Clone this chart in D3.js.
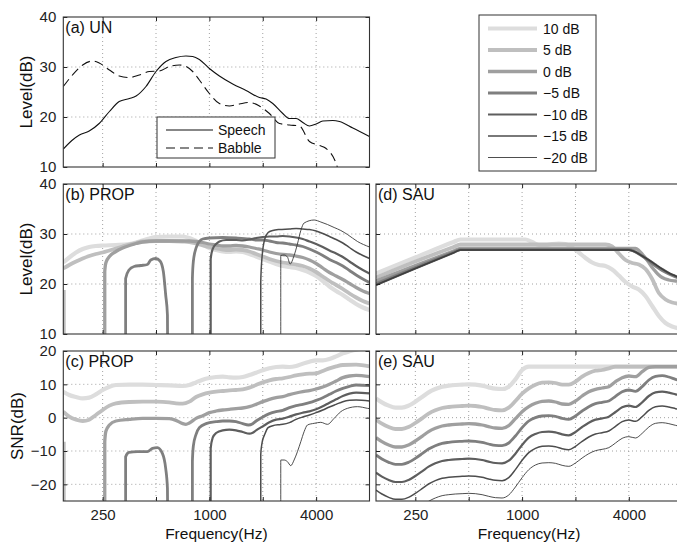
<!DOCTYPE html>
<html><head><meta charset="utf-8">
<script src="https://cdn.jsdelivr.net/npm/d3@7"></script>
<style>body{margin:0;background:#fff}</style>
</head><body><svg id="chart" width="677" height="542"></svg>
<script>
// ---------------- DATA ----------------
const snrLabels = ["10 dB", "5 dB", "0 dB", "\u22125 dB", "\u221210 dB", "\u221215 dB", "\u221220 dB"];
const xTickValues = [250, 1000, 4000];
const xGridValues = [250, 500, 1000, 2000, 4000];
const levelTicks = [10, 20, 30, 40];
const snrTicks = [-20, -10, 0, 10, 20];

// (a) unprocessed spectra [Hz, dB]
const speech = [[150,13.6],[169,15.4],[185,16.4],[210,17.2],[239,18.7],[273,21.1],[310,23.1],[354,23.7],[386,24.2],[439,26.1],[500,29.1],[569,31.1],[648,31.9],[738,32.2],[805,32.1],[878,31.5],[1000,29.7],[1139,28.2],[1354,26.6],[1610,25.3],[1915,23.9],[2089,23.6],[2278,22.7],[2594,20.7],[2828,19.7],[3084,19.7],[3364,18.9],[3668,18.2],[4000,18.6],[4362,19.2],[4967,19.3],[5417,19.1],[6442,17.8],[8000,16.1]];
const babble = [[150,26.1],[169,28.4],[193,30.4],[220,31.2],[239,30.8],[273,29.4],[310,28.2],[354,27.9],[403,28.4],[459,29.1],[522,29.2],[595,30.1],[677,30.4],[738,30.1],[805,29.1],[878,27.4],[1000,24.7],[1139,22.7],[1297,22.2],[1477,22.6],[1682,22.9],[1915,22.2],[2181,20.7],[2484,18.7],[2828,18.4],[3221,18.2],[3668,15.1],[4177,14.3],[4555,13.7],[5187,10.7],[5417,8.5]];

// (b) PROP level [Hz, dB]
const propLevel10 = [[150,24.3],[162,25.3],[177,26.3],[193,27.0],[210,27.4],[229,27.6],[250,27.7],[297,27.8],[354,28.0],[386,28.3],[420,28.7],[459,29.1],[500,29.4],[595,29.5],[707,29.5],[771,29.2],[841,28.6],[917,27.9],[1000,27.2],[1091,26.8],[1189,26.5],[1297,26.4],[1414,26.5],[1542,26.4],[1682,26.0],[1834,25.5],[2000,25.0],[2181,24.5],[2378,24.0],[2594,23.6],[2828,23.4],[3084,23.2],[3364,22.8],[3668,22.3],[4000,21.6],[4362,20.6],[4757,19.5],[5187,18.6],[5657,17.8],[6169,16.9],[6727,16.0],[7336,15.3],[8000,14.8]];
const propLevel5 = [[150,23.1],[162,23.8],[177,24.5],[193,25.1],[210,25.6],[229,26.0],[250,26.3],[273,26.7],[297,27.1],[324,27.5],[354,27.9],[386,28.2],[420,28.5],[500,28.6],[595,28.6],[707,28.5],[771,28.4],[841,28.1],[917,27.7],[1000,27.4],[1091,27.1],[1189,26.9],[1297,26.8],[1414,26.9],[1542,26.8],[1682,26.5],[1834,26.0],[2000,25.5],[2181,25.0],[2378,24.6],[2594,24.3],[2828,24.1],[3084,23.9],[3364,23.6],[3668,23.1],[4000,22.4],[4362,21.5],[4757,20.6],[5187,19.8],[5657,19.0],[6169,18.1],[6727,17.3],[7336,16.6],[8000,16.1]];
const propLevel0 = [[257,5],[257,22.5],[261,24.3],[273,25.5],[297,26.5],[324,27.2],[354,27.7],[386,28.1],[420,28.4],[500,28.6],[771,28.6],[841,28.5],[917,28.3],[1000,28.0],[1091,27.8],[1189,27.6],[1297,27.6],[1414,27.7],[1542,27.6],[1682,27.4],[1834,27.1],[2000,26.8],[2181,26.4],[2378,26.1],[2594,25.9],[2828,25.8],[3084,25.6],[3364,25.3],[3668,24.8],[4000,24.1],[4362,23.2],[4757,22.3],[5187,21.6],[5657,20.9],[6169,20.1],[6727,19.3],[7336,18.6],[8000,18.1]];
const propLevelM5Low = [[337,5],[337,21.1],[352,22.8],[376,23.5],[410,23.7],[447,23.9],[467,24.8],[498,25.1],[527,24.6],[550,22.5],[567,17.8],[580,13.8],[582,5]];
const propLevelM5 = [[802,5],[802,21.1],[812,24.5],[841,27.2],[878,28.5],[917,29.0],[1000,29.2],[1189,29.3],[1414,29.2],[1682,29.0],[1834,28.8],[2000,28.8],[2181,28.6],[2378,28.3],[2594,28.2],[2828,28.0],[3084,27.8],[3364,27.5],[3668,27.0],[4000,26.4],[4362,25.7],[4757,24.9],[5187,24.3],[5657,23.6],[6169,22.7],[6727,21.8],[7336,21.0],[8000,20.3]];
const propLevelM10 = [[1017,5],[1017,25.0],[1044,27.0],[1091,28.0],[1139,28.5],[1242,28.8],[1414,28.8],[1542,28.7],[1682,28.9],[1834,29.2],[2000,29.4],[2181,29.5],[2378,29.5],[2594,29.6],[2828,29.5],[3084,29.3],[3364,29.0],[3668,28.5],[4000,28.0],[4362,27.4],[4757,26.7],[5187,26.1],[5657,25.4],[6169,24.5],[6727,23.6],[7336,22.8],[8000,22.1]];
const propLevelM15 = [[1949,5],[1949,20.5],[1983,25.5],[2053,29.0],[2144,30.3],[2278,30.7],[2484,30.9],[2828,31.0],[3084,31.1],[3364,31.0],[3668,30.9],[4000,30.6],[4362,30.1],[4757,29.5],[5187,28.9],[5657,28.2],[6169,27.3],[6727,26.4],[7336,25.7],[8000,25.1]];
const propLevelM20 = [[2527,5],[2527,25.7],[2639,25.8],[2756,25.4],[2853,24.0],[3005,25.7],[3138,28.0],[3278,30.7],[3422,32.2],[3897,32.8],[4250,32.4],[4635,31.9],[5055,31.3],[5512,30.7],[6010,29.9],[6845,28.5],[8000,27.4]];
const propLevelEdge = [[151,5],[151,18.8]];

// (c) PROP SNR [Hz, dB]
const propSnr10 = [[150,7.8],[162,6.8],[177,6.2],[193,5.8],[210,6.0],[229,7.0],[250,8.3],[273,9.3],[297,9.8],[354,9.9],[420,9.9],[500,9.8],[595,9.7],[707,9.5],[771,9.8],[841,10.6],[917,11.4],[1000,11.9],[1091,12.2],[1189,12.3],[1297,12.1],[1414,12.0],[1542,12.2],[1682,12.8],[1834,13.5],[2000,14.2],[2181,14.8],[2378,15.2],[2594,15.3],[2828,15.2],[3084,15.5],[3364,16.2],[3668,16.8],[4000,17.2],[4362,17.2],[4757,17.6],[5187,18.4],[5657,19.3],[6169,19.9],[6727,20.4],[8000,20.8]];
const propSnr5 = [[150,1.8],[162,0.3],[177,-0.6],[193,-1.0],[210,-0.6],[229,0.8],[250,2.3],[273,3.6],[297,4.3],[354,4.7],[420,4.8],[500,4.8],[595,4.6],[648,4.3],[707,4.2],[771,4.8],[841,6.2],[917,7.0],[1000,7.5],[1091,7.8],[1189,8.0],[1297,8.2],[1414,8.3],[1542,8.5],[1682,9.0],[1834,9.8],[2000,10.6],[2181,11.2],[2378,11.6],[2594,11.8],[2828,12.2],[3084,12.7],[3364,13.0],[3668,13.2],[4000,13.3],[4362,14.0],[4757,14.8],[5187,15.4],[5657,15.8],[6727,15.9],[8000,15.4]];
const propSnr0 = [[257,-30],[257,-7.2],[261,-4.0],[273,-2.2],[297,-1.0],[354,-0.5],[420,-0.2],[500,-0.2],[595,-0.3],[648,-0.8],[707,-1.8],[738,-2.0],[771,-1.6],[841,-0.2],[917,0.6],[1000,1.5],[1091,2.0],[1189,2.3],[1297,2.5],[1414,2.7],[1542,2.9],[1682,3.3],[1834,4.0],[2000,4.8],[2181,5.5],[2378,6.0],[2594,6.3],[2828,6.9],[3084,7.4],[3364,7.8],[3668,8.1],[4000,8.6],[4362,9.2],[4757,10.0],[5187,11.0],[5657,12.0],[6169,12.5],[6727,12.7],[8000,12.3]];
const propSnrM5Low = [[337,-30],[337,-11.7],[352,-10.4],[392,-10.2],[447,-10.2],[477,-9.2],[509,-9.0],[543,-10.7],[567,-15.2],[580,-21.2],[582,-30]];
const propSnrM5 = [[802,-30],[802,-13.2],[812,-8.5],[841,-5.0],[878,-3.0],[958,-1.8],[1091,-1.2],[1189,-1.0],[1297,-1.0],[1414,-1.2],[1542,-1.8],[1660,-2.2],[1756,-1.8],[1834,-1.0],[2000,0.2],[2181,1.2],[2378,1.8],[2594,2.2],[2828,3.0],[3084,3.6],[3364,4.0],[3668,4.5],[4000,5.2],[4362,6.0],[4757,7.0],[5187,8.0],[5657,8.8],[6169,9.4],[6727,9.8],[8000,9.6]];
const propSnrM10 = [[1017,-30],[1017,-9.2],[1044,-6.0],[1091,-4.6],[1189,-3.8],[1297,-3.6],[1414,-3.8],[1542,-4.3],[1682,-4.8],[1756,-4.5],[1834,-3.8],[2000,-2.6],[2181,-1.4],[2378,-0.6],[2594,-0.3],[2828,0.3],[3084,1.0],[3364,1.5],[3668,1.9],[4000,2.5],[4362,3.4],[4757,4.5],[5187,5.5],[5657,6.5],[6169,7.2],[6727,7.5],[8000,7.3]];
const propSnrM15 = [[1949,-30],[1949,-11.0],[1983,-7.5],[2053,-5.0],[2144,-3.0],[2278,-2.4],[2484,-2.1],[2594,-2.0],[2828,-1.5],[3084,-0.5],[3364,0.2],[3668,0.8],[4000,1.5],[4362,2.3],[4757,3.2],[5187,4.0],[5657,4.8],[6169,5.2],[6727,5.3],[8000,5.0]];
const propSnrM20 = [[2527,-30],[2527,-12.7],[2639,-12.7],[2756,-13.2],[2878,-14.4],[3005,-12.7],[3138,-10.2],[3278,-7.2],[3422,-4.2],[3574,-2.2],[3897,-1.7],[4250,-1.4],[4635,-2.0],[5055,-0.2],[5512,1.8],[6010,2.8],[6845,3.3],[7794,2.8],[8000,2.7]];
const propSnrEdge = [[151,-30],[151,-7.2]];

// (d) SAU level [Hz, dB]
const sauLevel10 = [[150,22.1],[250,25.3],[411,28.4],[449,28.9],[1044,28.9],[1139,28.4],[1242,27.8],[1354,27.8],[1477,28.0],[1610,28.1],[1756,28.0],[1915,27.3],[2089,26.3],[2278,25.2],[2484,24.3],[2709,23.8],[2954,23.6],[3221,22.9],[3513,21.7],[3831,20.4],[4177,19.5],[4555,18.9],[4967,17.6],[5417,15.6],[5907,13.6],[6442,12.2],[7025,11.5],[8000,11.0]];
const sauLevel5 = [[150,21.3],[250,24.5],[411,27.4],[449,27.9],[2954,27.9],[3221,27.5],[3513,26.1],[3831,24.8],[4177,24.2],[4555,23.9],[4967,23.0],[5417,21.0],[5907,18.2],[6442,16.9],[7025,16.3],[8000,16.0]];
const sauLevel0 = [[150,20.6],[250,23.7],[411,26.6],[449,27.1],[4362,27.1],[4555,26.7],[4757,26.0],[4967,25.2],[5187,24.3],[5417,23.3],[5657,22.5],[5907,21.8],[6169,21.3],[6727,20.8],[7336,20.6],[8000,20.5]];
const sauLevelM5 = [[150,20.1],[250,23.3],[411,26.4],[449,26.9],[4000,26.9],[4362,26.4],[4757,25.6],[5187,24.6],[5657,23.6],[6169,22.7],[6727,22.0],[7336,21.4],[8000,20.9]];
const sauLevelM10 = [[150,19.8],[250,23.1],[411,26.25],[449,26.8],[4000,26.8],[4362,26.4],[4757,25.6],[5187,24.8],[5657,23.9],[6169,23.0],[6727,22.2],[7336,21.6],[8000,21.0]];
const sauLevelM15 = [[150,19.8],[250,23.1],[411,26.25],[449,26.8],[4000,26.8],[4362,26.4],[4757,25.6],[5187,24.8],[5657,23.9],[6169,23.0],[6727,22.2],[7336,21.6],[8000,21.0]];
const sauLevelM20 = [[150,19.8],[250,23.1],[411,26.25],[449,26.8],[4000,26.8],[4362,26.4],[4757,25.6],[5187,24.8],[5657,23.9],[6169,23.0],[6727,22.2],[7336,21.6],[8000,21.0]];

// (e) SAU SNR on a 1/8-octave grid
const freqGrid = [150,162,177,193,210,229,250,273,297,324,354,386,420,459,500,545,595,648,707,771,841,917,1000,1091,1189,1297,1414,1542,1682,1834,2000,2181,2378,2594,2828,3084,3364,3668,4000,4362,4757,5187,5657,6169,6727,7336,8000];
const sauSnr10 = [5.8,4.6,3.6,3.0,3.0,3.6,4.8,6.2,7.6,8.6,9.3,9.6,9.8,9.9,10.0,9.9,9.6,9.1,8.7,8.6,9.3,11.5,14.3,15.3,15.3,15.3,15.3,15.3,15.3,15.3,15.3,15.3,15.3,15.3,15.3,15.3,15.3,15.3,15.3,15.3,15.3,15.3,15.3,15.3,15.3,15.3,15.3];
const sauSnr5 = [-0.6,-1.8,-2.8,-3.4,-3.4,-2.8,-1.6,-0.2,1.2,2.2,2.9,3.2,3.4,3.5,3.6,3.5,3.2,2.7,2.3,2.2,3.0,5.0,7.2,8.8,9.9,10.5,10.6,10.4,9.9,9.9,10.8,12.3,13.4,14.1,14.3,14.8,15.3,15.3,15.3,15.3,15.3,15.3,15.3,15.3,15.3,15.3,15.3];
const sauSnr0 = [-6.0,-7.2,-8.2,-8.8,-8.8,-8.2,-7.0,-5.6,-4.2,-3.2,-2.5,-2.2,-2.0,-1.9,-1.8,-1.9,-2.2,-2.7,-3.1,-3.2,-2.4,-0.3,1.8,3.3,4.3,4.9,5.0,4.7,4.1,4.0,5.0,6.5,7.8,8.5,8.9,9.3,10.8,12.0,12.5,12.3,13.8,15.1,15.3,15.3,15.3,15.3,15.3];
const sauSnrM5 = [-11.2,-12.4,-13.4,-14.0,-14.0,-13.4,-12.2,-10.8,-9.4,-8.4,-7.7,-7.4,-7.2,-7.1,-7.0,-7.1,-7.4,-7.9,-8.3,-8.4,-7.6,-5.5,-3.0,-1.0,0.0,0.5,0.6,0.4,-0.2,-0.5,0.5,2.0,3.3,4.2,4.6,5.0,6.4,7.8,8.3,7.9,9.3,11.3,12.4,12.6,12.2,11.5,10.9];
const sauSnrM10 = [-16.5,-17.7,-18.7,-19.3,-19.3,-18.7,-17.5,-16.1,-14.7,-13.7,-13.0,-12.7,-12.5,-12.4,-12.3,-12.4,-12.7,-13.2,-13.6,-13.7,-12.9,-10.8,-8.2,-6.0,-4.9,-4.3,-4.2,-4.4,-5.0,-5.3,-4.3,-2.8,-1.5,-0.6,-0.2,0.3,1.7,3.1,3.6,3.2,4.6,6.5,7.6,7.8,7.5,7.0,6.5];
const sauSnrM15 = [-21.7,-22.9,-23.9,-24.5,-24.5,-23.9,-22.7,-21.3,-19.9,-18.9,-18.2,-17.9,-17.7,-17.6,-17.5,-17.6,-17.9,-18.4,-18.8,-18.9,-18.0,-15.6,-12.8,-10.5,-9.2,-8.6,-8.5,-8.7,-9.3,-9.6,-8.6,-7.1,-5.8,-4.9,-4.5,-4.0,-2.6,-1.2,-0.7,-1.1,0.3,2.2,3.3,3.5,3.2,2.7,2.2];
const sauSnrM20 = [-26.9,-28.1,-29.1,-29.7,-29.7,-29.1,-27.9,-26.5,-25.1,-24.1,-23.4,-23.1,-22.9,-22.8,-22.7,-22.8,-23.1,-23.6,-24.0,-24.1,-23.2,-20.8,-18.0,-15.6,-14.2,-13.6,-13.5,-13.7,-14.3,-14.6,-13.6,-12.1,-10.8,-9.9,-9.5,-9.0,-7.6,-6.2,-5.7,-6.1,-4.7,-2.8,-1.7,-1.5,-1.8,-2.3,-2.8];

// ---------------- STYLE ----------------
const snrColors = ["#dddddd", "#bfbfbf", "#9f9f9f", "#7f7f7f", "#5e5e5e", "#4d4d4d", "#3a3a3a"];
const snrWidths = [4.2, 3.8, 3.3, 2.8, 2.2, 1.5, 0.9];
const FONT = "'Liberation Sans', Arial, Helvetica, sans-serif";

const svg = d3.select("#chart");
const defs = svg.append("defs");
const fmt = d3.format("d");
const zipGrid = vals => freqGrid.map((f, i) => [f, vals[i]]);

function drawPanel(p) {
  const x = d3.scaleLog().domain([150, 8000]).range([p.left, p.right]);
  const y = d3.scaleLinear().domain(p.yDomain).range([p.bottom, p.top]);
  const g = svg.append("g");
  const inner = p.yTicks.filter(v => v > p.yDomain[0] && v < p.yDomain[1]);
  g.append("g").selectAll("line").data(xGridValues).join("line")
    .attr("x1", d => x(d)).attr("x2", d => x(d)).attr("y1", p.top).attr("y2", p.bottom)
    .attr("stroke", "#8a8a8a").attr("stroke-width", 0.8).attr("stroke-dasharray", "1,3");
  g.append("g").selectAll("line").data(inner).join("line")
    .attr("x1", p.left).attr("x2", p.right).attr("y1", d => y(d)).attr("y2", d => y(d))
    .attr("stroke", "#8a8a8a").attr("stroke-width", 0.8).attr("stroke-dasharray", "1,3");

  const cid = "clip-" + p.name;
  defs.append("clipPath").attr("id", cid).append("rect")
    .attr("x", p.left).attr("y", p.top).attr("width", p.right - p.left).attr("height", p.bottom - p.top);
  const lg = g.append("g").attr("clip-path", `url(#${cid})`);
  const line = d3.line().x(d => x(d[0])).y(d => y(d[1])).curve(d3.curveMonotoneX);
  p.series.forEach(s => {
    lg.append("path").attr("d", line(s.data)).attr("fill", "none")
      .attr("stroke", s.color).attr("stroke-width", s.width)
      .attr("stroke-dasharray", s.dash || null)
      .attr("stroke-linejoin", "round").attr("stroke-linecap", "butt");
  });

  const clean = a => a.call(s => s.select(".domain").remove())
    .attr("font-family", FONT).attr("font-size", 15).attr("color", "#222");
  g.append("g").attr("transform", `translate(0,${p.bottom})`)
    .call(d3.axisBottom(x).tickValues(xGridValues).tickSizeInner(-4).tickSizeOuter(0).tickPadding(8)
      .tickFormat(d => p.xLabels && xTickValues.includes(d) ? fmt(d) : ""))
    .call(clean);
  g.append("g").attr("transform", `translate(0,${p.top})`)
    .call(d3.axisTop(x).tickValues(xGridValues).tickSizeInner(-4).tickSizeOuter(0).tickFormat(""))
    .call(clean);
  g.append("g").attr("transform", `translate(${p.left},0)`)
    .call(d3.axisLeft(y).tickValues(p.yTicks).tickSizeInner(-4).tickSizeOuter(0).tickPadding(7)
      .tickFormat(d => p.yLabels ? fmt(d) : ""))
    .call(clean);
  g.append("g").attr("transform", `translate(${p.right},0)`)
    .call(d3.axisRight(y).tickValues(p.yTicks).tickSizeInner(-4).tickSizeOuter(0).tickFormat(""))
    .call(clean);

  g.append("rect").attr("x", p.left).attr("y", p.top)
    .attr("width", p.right - p.left).attr("height", p.bottom - p.top)
    .attr("fill", "none").attr("stroke", "#333").attr("stroke-width", 1.1);

  g.append("text").attr("x", p.left + 2).attr("y", p.top + 15.5)
    .attr("font-family", FONT).attr("font-size", 16).attr("fill", "#111").text(p.title);

  if (p.yTitle) {
    g.append("text").attr("transform", `translate(${p.yTitleX},${(p.top + p.bottom) / 2}) rotate(-90)`)
      .attr("text-anchor", "middle").attr("dominant-baseline", "central")
      .attr("font-family", FONT).attr("font-size", 17).attr("fill", "#111").text(p.yTitle);
  }
  if (p.xTitle) {
    g.append("text").attr("x", (p.left + p.right) / 2).attr("y", p.bottom + 38)
      .attr("text-anchor", "middle")
      .attr("font-family", FONT).attr("font-size", 15.5).attr("fill", "#111").text(p.xTitle);
  }
  return { g, x, y };
}

const styled = (data, i) => ({ data, color: snrColors[i], width: snrWidths[i] });

const L = { left: 63.3, right: 369.5 }, R = { left: 376, right: 682.2 };
const rowA = { top: 17, bottom: 167 }, rowB = { top: 184, bottom: 334 }, rowC = { top: 351, bottom: 501 };

// (a)
const pa = drawPanel({ name: "a", ...L, ...rowA, yDomain: [10, 40], yTicks: levelTicks, yLabels: true,
  title: "(a) UN", yTitle: "Level(dB)", yTitleX: 26,
  series: [ { data: speech, color: "#111", width: 1.1 }, { data: babble, color: "#111", width: 1.1, dash: "9,5" } ] });

// legend inside (a)
const la = pa.g.append("g");
la.append("rect").attr("x", 157).attr("y", 117).attr("width", 118).attr("height", 41)
  .attr("fill", "#fff").attr("stroke", "#333").attr("stroke-width", 1);
[["Speech", null], ["Babble", "9,5"]].forEach((d, i) => {
  const yy = 130 + i * 18;
  la.append("line").attr("x1", 166).attr("x2", 213).attr("y1", yy).attr("y2", yy)
    .attr("stroke", "#111").attr("stroke-width", 1.1).attr("stroke-dasharray", d[1]);
  la.append("text").attr("x", 218).attr("y", yy).attr("dominant-baseline", "central")
    .attr("font-family", FONT).attr("font-size", 14).attr("fill", "#111").text(d[0]);
});

// (b)
drawPanel({ name: "b", ...L, ...rowB, yDomain: [10, 40], yTicks: levelTicks, yLabels: true,
  title: "(b) PROP", yTitle: "Level(dB)", yTitleX: 26,
  series: [ styled(propLevelEdge, 1), styled(propLevel10, 0), styled(propLevel5, 1), styled(propLevel0, 2),
    styled(propLevelM5Low, 3), styled(propLevelM5, 3), styled(propLevelM10, 4), styled(propLevelM15, 5), styled(propLevelM20, 6) ] });

// (c)
drawPanel({ name: "c", ...L, ...rowC, yDomain: [-25, 20], yTicks: snrTicks, yLabels: true, xLabels: true,
  title: "(c) PROP", yTitle: "SNR(dB)", yTitleX: 17, xTitle: "Frequency(Hz)",
  series: [ styled(propSnrEdge, 1), styled(propSnr10, 0), styled(propSnr5, 1), styled(propSnr0, 2),
    styled(propSnrM5Low, 3), styled(propSnrM5, 3), styled(propSnrM10, 4), styled(propSnrM15, 5), styled(propSnrM20, 6) ] });

// (d)
drawPanel({ name: "d", ...R, ...rowB, yDomain: [10, 40], yTicks: levelTicks, yLabels: false,
  title: "(d) SAU",
  series: [sauLevel10, sauLevel5, sauLevel0, sauLevelM5, sauLevelM10, sauLevelM15, sauLevelM20].map(styled) });

// (e)
drawPanel({ name: "e", ...R, ...rowC, yDomain: [-25, 20], yTicks: snrTicks, yLabels: false, xLabels: true,
  title: "(e) SAU", xTitle: "Frequency(Hz)",
  series: [sauSnr10, sauSnr5, sauSnr0, sauSnrM5, sauSnrM10, sauSnrM15, sauSnrM20].map((v, i) => styled(zipGrid(v), i)) });

// main legend
const lg = svg.append("g");
lg.append("rect").attr("x", 479).attr("y", 15).attr("width", 117).attr("height", 156)
  .attr("fill", "#fff").attr("stroke", "#333").attr("stroke-width", 1);
snrLabels.forEach((lab, i) => {
  const yy = 28.5 + i * 21.5;
  lg.append("line").attr("x1", 488).attr("x2", 537).attr("y1", yy).attr("y2", yy)
    .attr("stroke", snrColors[i]).attr("stroke-width", snrWidths[i]);
  lg.append("text").attr("x", 543).attr("y", yy).attr("dominant-baseline", "central")
    .attr("font-family", FONT).attr("font-size", 14).attr("fill", "#111").text(lab);
});
</script></body></html>
